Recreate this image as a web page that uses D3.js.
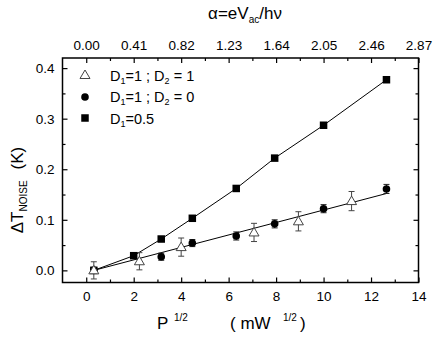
<!DOCTYPE html>
<html><head><meta charset="utf-8">
<script src="https://cdn.jsdelivr.net/npm/d3@7"></script>
<style>body{margin:0;background:#fff}svg{display:block}text{font-family:"Liberation Sans",Arial,sans-serif;fill:#000}</style>
</head><body><svg id="c" width="436" height="341"></svg>
<script>
// ---- data ----
const xSquares = [0.32, 2.0, 3.16, 4.47, 6.32, 7.94, 10.0, 12.65];
const ySquares = [0.0, 0.029, 0.062, 0.103, 0.162, 0.222, 0.287, 0.377];

const xCircles = [0.32, 3.16, 4.47, 6.32, 7.94, 10.0, 12.65];
const yCircles = [0.0, 0.027, 0.054, 0.068, 0.092, 0.122, 0.161];
const eCircles = [0.006, 0.007, 0.007, 0.008, 0.008, 0.008, 0.009];

const xTriangles = [0.32, 2.24, 4.0, 7.07, 8.94, 11.18];
const yTriangles = [0.0, 0.018, 0.046, 0.075, 0.097, 0.137];
const eTriangles = [0.017, 0.017, 0.018, 0.018, 0.019, 0.019];

const xFitLow = [0.32, 12.65];
const yFitLow = [0.0, 0.152];

const xTicks = [0, 2, 4, 6, 8, 10, 12, 14];
const xMinor = [1, 3, 5, 7, 9, 11, 13];
const yTicks = [0.0, 0.1, 0.2, 0.3, 0.4];
const yMinor = [0.05, 0.15, 0.25, 0.35];
const topTicks = [0.00, 0.41, 0.82, 1.23, 1.64, 2.05, 2.46, 2.87];
const topMinor = [0.205, 0.615, 1.025, 1.435, 1.845, 2.255, 2.665];

// ---- scales ----
const L = 62.5, R = 418.5, T = 58, B = 282.5;
const x = d3.scaleLinear().domain([-1, 14]).range([L, R]);
const xTop = d3.scaleLinear().domain([-0.205, 2.87]).range([L, R]);
const y = d3.scaleLinear().domain([-0.024, 0.42]).range([B, T]);

const svg = d3.select("#c");
const FS = 13.5;

// ---- axes ----
function ax(g, axis) { g.call(axis); g.select(".domain").remove(); g.selectAll("line").attr("stroke", "#000").attr("stroke-width", 1.2); return g; }

ax(svg.append("g").attr("transform", `translate(0,${B})`),
  d3.axisBottom(x).tickValues(xTicks).tickSize(-5).tickPadding(9).tickFormat(d3.format("d")))
  .selectAll("text").attr("font-size", FS);
ax(svg.append("g").attr("transform", `translate(0,${B})`),
  d3.axisBottom(x).tickValues(xMinor).tickSize(-3).tickFormat(""));
ax(svg.append("g").attr("transform", `translate(0,${T})`),
  d3.axisTop(xTop).tickValues(topTicks).tickSize(-5).tickPadding(8).tickFormat(d3.format(".2f")))
  .selectAll("text").attr("font-size", FS);
ax(svg.append("g").attr("transform", `translate(0,${T})`),
  d3.axisTop(xTop).tickValues(topMinor).tickSize(-3).tickFormat(""));
ax(svg.append("g").attr("transform", `translate(${L},0)`),
  d3.axisLeft(y).tickValues(yTicks).tickSize(-5).tickPadding(8).tickFormat(d3.format(".1f")))
  .selectAll("text").attr("font-size", FS);
ax(svg.append("g").attr("transform", `translate(${L},0)`),
  d3.axisLeft(y).tickValues(yMinor).tickSize(-3).tickFormat(""));
ax(svg.append("g").attr("transform", `translate(${R},0)`),
  d3.axisRight(y).tickValues(yTicks).tickSize(-5).tickFormat(""));
ax(svg.append("g").attr("transform", `translate(${R},0)`),
  d3.axisRight(y).tickValues(yMinor).tickSize(-3).tickFormat(""));

svg.append("rect").attr("x", L).attr("y", T).attr("width", R - L).attr("height", B - T)
  .attr("fill", "none").attr("stroke", "#000").attr("stroke-width", 1.5);

// ---- lines ----
const line = d3.line().x(d => x(d[0])).y(d => y(d[1]));
svg.append("path").datum(xSquares.map((v, i) => [v, ySquares[i]]))
  .attr("d", line).attr("fill", "none").attr("stroke", "#000").attr("stroke-width", 1);
svg.append("path").datum(xFitLow.map((v, i) => [v, yFitLow[i]]))
  .attr("d", line).attr("fill", "none").attr("stroke", "#000").attr("stroke-width", 1);

// ---- error bars ----
function errBars(xs, ys, es, col) {
  const g = svg.append("g").attr("stroke", col).attr("stroke-width", 1);
  xs.forEach((v, i) => {
    const cx = x(v), y1 = y(ys[i] - es[i]), y2 = y(ys[i] + es[i]);
    g.append("line").attr("x1", cx).attr("x2", cx).attr("y1", y1).attr("y2", y2);
    g.append("line").attr("x1", cx - 3).attr("x2", cx + 3).attr("y1", y1).attr("y2", y1);
    g.append("line").attr("x1", cx - 3).attr("x2", cx + 3).attr("y1", y2).attr("y2", y2);
  });
}
errBars(xCircles, yCircles, eCircles, "#222");
errBars(xTriangles, yTriangles, eTriangles, "#444");

// ---- markers ----
const sq = 7.5;
svg.append("g").selectAll("rect").data(xSquares.map((v, i) => [v, ySquares[i]])).join("rect")
  .attr("x", d => x(d[0]) - sq / 2).attr("y", d => y(d[1]) - sq / 2)
  .attr("width", sq).attr("height", sq).attr("fill", "#000");
svg.append("g").selectAll("circle").data(xCircles.map((v, i) => [v, yCircles[i]])).join("circle")
  .attr("cx", d => x(d[0])).attr("cy", d => y(d[1])).attr("r", 3.8).attr("fill", "#000");
const tri = (cx, cy) => `M${cx},${cy - 5}L${cx + 5},${cy + 3.5}L${cx - 5},${cy + 3.5}Z`;
svg.append("g").selectAll("path").data(xTriangles.map((v, i) => [v, yTriangles[i]])).join("path")
  .attr("d", d => tri(x(d[0]), y(d[1]))).attr("fill", "#fff").attr("stroke", "#444").attr("stroke-width", 1);

// ---- legend ----
const legX = 85, legT = 110;
svg.append("path").attr("d", tri(legX, 75)).attr("fill", "#fff").attr("stroke", "#444").attr("stroke-width", 1);
svg.append("circle").attr("cx", legX).attr("cy", 97).attr("r", 3.8).attr("fill", "#000");
svg.append("rect").attr("x", legX - sq / 2).attr("y", 118 - sq / 2).attr("width", sq).attr("height", sq).attr("fill", "#000");

function legText(yy, parts) {
  const t = svg.append("text").attr("x", legT).attr("y", yy).attr("font-size", 14.5);
  parts.forEach(p => {
    const s = t.append("tspan").text(p[0]);
    if (p[1]) s.attr("font-size", 9).attr("baseline-shift", "-3");
  });
}
legText(80.5, [["D"], ["1", 1], ["=1 ; D"], ["2", 1], [" = 1"]]);
legText(102, [["D"], ["1", 1], ["=1 ; D"], ["2", 1], [" = 0"]]);
legText(123.5, [["D"], ["1", 1], ["=0.5"]]);

// ---- axis titles ----
const tt = svg.append("text").attr("x", 245).attr("y", 19).attr("text-anchor", "middle").attr("font-size", 17);
tt.append("tspan").text("α=eV");
tt.append("tspan").text("ac").attr("font-size", 10).attr("baseline-shift", "-4");
tt.append("tspan").text("/hν");

svg.append("text").attr("x", 157).attr("y", 329).attr("font-size", 17).text("P");
svg.append("text").attr("x", 174).attr("y", 321).attr("font-size", 10).text("1/2");
svg.append("text").attr("x", 230).attr("y", 329).attr("font-size", 17).text("( mW");
svg.append("text").attr("x", 283).attr("y", 321).attr("font-size", 10).text("1/2");
svg.append("text").attr("x", 300).attr("y", 329).attr("font-size", 17).text(")");

const yt = svg.append("text").attr("transform", "translate(23,190) rotate(-90)").attr("text-anchor", "middle").attr("font-size", 17);
yt.append("tspan").text("ΔT");
yt.append("tspan").text("NOISE").attr("font-size", 10).attr("baseline-shift", "-4");
yt.append("tspan").text("(K)").attr("dx", 11);
</script></body></html>
